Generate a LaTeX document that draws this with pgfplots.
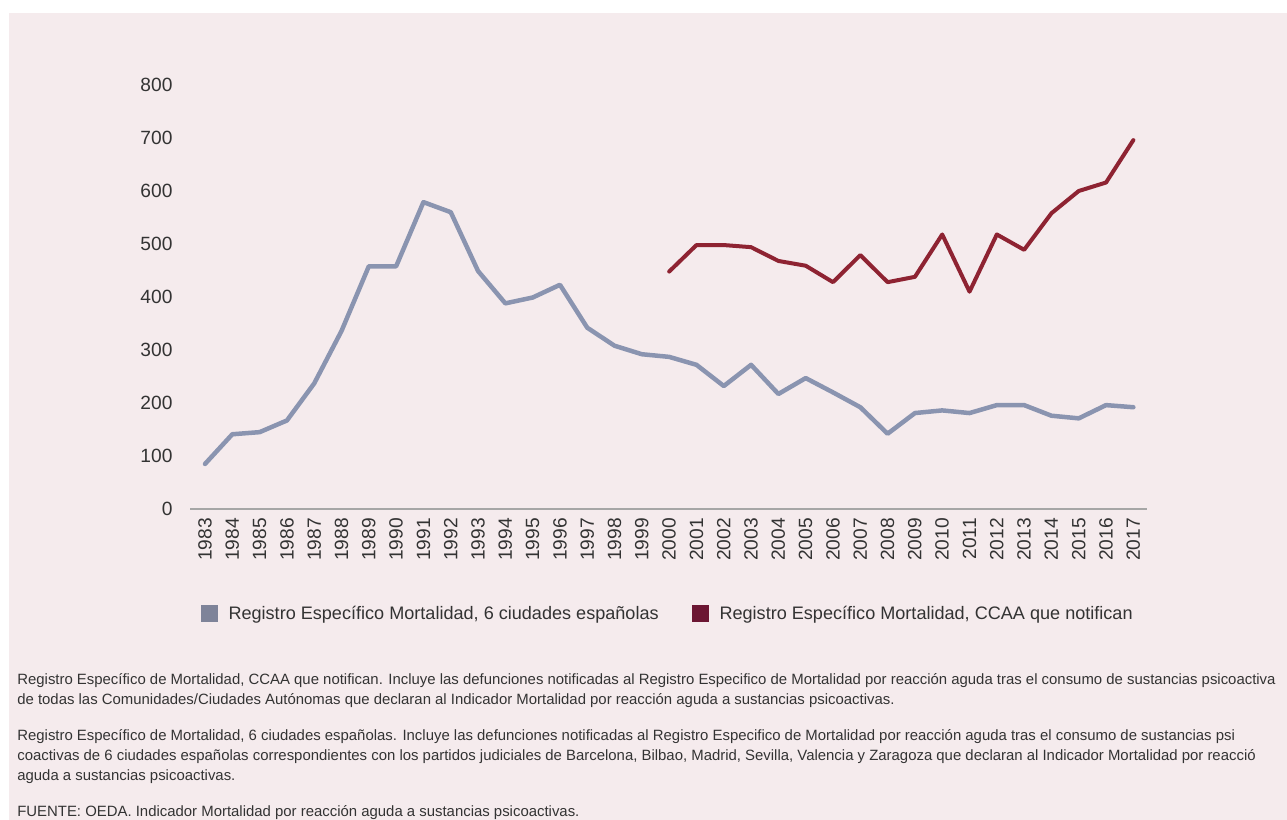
\documentclass[border=0pt]{standalone}
\usepackage{fontspec}
\setmainfont{Liberation Sans}
\usepackage{pgfplots}
\pgfplotsset{compat=1.18}
\definecolor{bgpink}{HTML}{F5EBED}
\definecolor{lblue}{HTML}{8A94B0}
\definecolor{lred}{HTML}{8E2332}
\definecolor{legblue}{HTML}{7E8399}
\definecolor{legred}{HTML}{6C1633}
\definecolor{txt}{HTML}{333333}
\begin{document}
\begin{tikzpicture}
\useasboundingbox (0,0) rectangle (772.2pt,492pt);
\fill[white] (0,0) rectangle (772.2pt,492pt);
\fill[bgpink] (5.4pt,0) rectangle (772.2pt,484.2pt);
\begin{axis}[
  at={(114pt,186.6pt)}, anchor=south west,
  scale only axis, width=574.2pt, height=254.4pt,
  xmin=1982.45, xmax=2017.5, ymin=0, ymax=800,
  axis x line*=bottom, axis y line*=left,
  x axis line style={draw=gray!70, line width=1.5pt, -},
  y axis line style={draw=none},
  major tick length=0pt,
  xtick={1983,...,2017}, ytick={0,100,...,800},
  x tick label style={yshift=-2pt, rotate=90, anchor=east, font=\fontsize{11.5}{13}\selectfont, text=txt, /pgf/number format/1000 sep={}},
  y tick label style={font=\fontsize{11.5}{13}\selectfont, text=txt, xshift=-7pt},
  /pgf/number format/assume math mode=true,
  legend columns=2,
  legend style={at={(0.5,-0.2476)}, anchor=center, draw=none, fill=none,
    font=\fontsize{10.85}{12}\selectfont, text=txt,
    /tikz/every even column/.append style={column sep=18pt}},
  legend cell align=left,
]
\addlegendimage{legend image code/.code={\fill[legblue, draw=none] (0pt,-5.1pt) rectangle (10.2pt,5.1pt); \path[draw=none, fill=none] (0pt,0pt) -- (14.5pt,0pt);}}
\addlegendentry{Registro Específico Mortalidad, 6 ciudades españolas}
\addlegendimage{legend image code/.code={\fill[legred, draw=none] (0pt,-5.1pt) rectangle (10.2pt,5.1pt); \path[draw=none, fill=none] (0pt,0pt) -- (14.5pt,0pt);}}
\addlegendentry{Registro Específico Mortalidad, CCAA que notifican}
\addplot[forget plot, lblue, line width=2.7pt, line join=round, line cap=round] coordinates {
(1983,85) (1984,141) (1985,145) (1986,167) (1987,237) (1988,336) (1989,458) (1990,458)
(1991,579) (1992,560) (1993,449) (1994,388) (1995,399) (1996,423) (1997,342) (1998,308)
(1999,292) (2000,287) (2001,272) (2002,232) (2003,272) (2004,217) (2005,247) (2006,220)
(2007,192) (2008,142) (2009,181) (2010,186) (2011,181) (2012,196) (2013,196) (2014,176)
(2015,171) (2016,196) (2017,192)};
\addplot[forget plot, lred, line width=2.4pt, line join=round, line cap=round] coordinates {
(2000,448) (2001,498) (2002,498) (2003,494) (2004,468) (2005,459) (2006,428) (2007,479)
(2008,428) (2009,438) (2010,518) (2011,410) (2012,518) (2013,489) (2014,558) (2015,600)
(2016,616) (2017,696)};
\end{axis}
\begin{scope}[every node/.style={anchor=base west, inner sep=0pt, text=txt, font=\fontsize{8.95}{11}\selectfont}]
\node at (10.2pt,81pt) {Registro Específico de Mortalidad, CCAA que notifican. Incluye las defunciones notificadas al Registro Especifico de Mortalidad por reacción aguda tras el consumo de sustancias psicoactiva};
\node at (10.2pt,69pt) {de todas las Comunidades/Ciudades Autónomas que declaran al Indicador Mortalidad por reacción aguda a sustancias psicoactivas.};
\node at (10.2pt,47.4pt) {Registro Específico de Mortalidad, 6 ciudades españolas. Incluye las defunciones notificadas al Registro Especifico de Mortalidad por reacción aguda tras el consumo de sustancias psi};
\node at (10.2pt,35.4pt) {coactivas de 6 ciudades españolas correspondientes con los partidos judiciales de Barcelona, Bilbao, Madrid, Sevilla, Valencia y Zaragoza que declaran al Indicador Mortalidad por reacció};
\node at (10.2pt,23.4pt) {aguda a sustancias psicoactivas.};
\node at (10.2pt,2pt) {FUENTE: OEDA. Indicador Mortalidad por reacción aguda a sustancias psicoactivas.};
\end{scope}
\end{tikzpicture}
\end{document}
